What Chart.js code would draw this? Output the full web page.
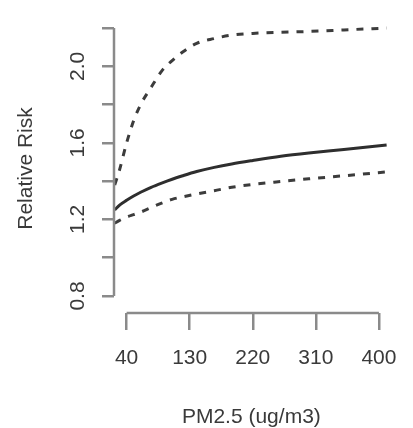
<!DOCTYPE html>
<html lang="en">
<head>
    <meta charset="UTF-8">
    <title>Relative Risk vs PM2.5</title>
    <script src="https://cdn.jsdelivr.net/npm/chart.js"></script>
    <style>
        body {
            margin: 0;
            background-color: #ffffff;
        }
        #rrChart {
            display: block;
        }
    </style>
</head>
<body>
    <canvas id="rrChart" width="413" height="428"></canvas>
    <script>
        // PM2.5 concentration (ug/m3)
        const pm25 = [23, 30, 40, 50, 60, 75, 90, 105, 120, 140, 165, 190, 220, 260, 300, 350, 411];
        // estimated relative risk and its confidence bounds
        const rrMean = [1.25, 1.275, 1.30, 1.322, 1.342, 1.368, 1.39, 1.41, 1.428, 1.45, 1.472, 1.49, 1.508, 1.53, 1.547, 1.565, 1.589];
        const rrUpper = [1.38, 1.46, 1.60, 1.715, 1.80, 1.89, 1.975, 2.03, 2.075, 2.12, 2.145, 2.163, 2.172, 2.178, 2.182, 2.19, 2.20];
        const rrLower = [1.18, 1.195, 1.212, 1.225, 1.238, 1.262, 1.285, 1.305, 1.318, 1.333, 1.35, 1.368, 1.383, 1.398, 1.412, 1.428, 1.448];

        const xTicks = [40, 130, 220, 310, 400];
        const yTicks = [0.8, 1.0, 1.2, 1.4, 1.6, 1.8, 2.0, 2.2];
        const yLabelTicks = [0.8, 1.2, 1.6, 2.0];
        const yLabels = ["0.8", "1.2", "1.6", "2.0"];

        const axisColor = "#8a8a8a";
        const textColor = "#3a3a3a";
        const fontFamily = "'Liberation Sans', Arial, sans-serif";

        const toPoints = (ys) => pm25.map((x, i) => ({ x: x, y: ys[i] }));

        // R style axes: lines only span first to last tick, y labels parallel to axis
        const rAxes = {
            id: "rAxes",
            afterDraw(chart) {
                const ctx = chart.ctx;
                const xs = chart.scales.x;
                const ys = chart.scales.y;
                const area = chart.chartArea;
                ctx.save();
                ctx.strokeStyle = axisColor;
                ctx.lineWidth = 2.5;
                ctx.beginPath();
                ctx.moveTo(xs.getPixelForValue(xTicks[0]), area.bottom);
                ctx.lineTo(xs.getPixelForValue(xTicks[xTicks.length - 1]), area.bottom);
                ctx.moveTo(area.left, ys.getPixelForValue(yTicks[0]));
                ctx.lineTo(area.left, ys.getPixelForValue(yTicks[yTicks.length - 1]));
                ctx.stroke();

                ctx.fillStyle = textColor;
                ctx.font = "21px " + fontFamily;
                ctx.textAlign = "center";
                ctx.textBaseline = "middle";
                yLabelTicks.forEach((v, i) => {
                    ctx.save();
                    ctx.translate(78, ys.getPixelForValue(v));
                    ctx.rotate(-Math.PI / 2);
                    ctx.fillText(yLabels[i], 0, 0);
                    ctx.restore();
                });
                ctx.restore();
            }
        };

        new Chart(document.getElementById("rrChart"), {
            type: "line",
            data: {
                datasets: [
                    {
                        label: "RR",
                        data: toPoints(rrMean),
                        borderColor: "#2e2e2e",
                        borderWidth: 3,
                        pointRadius: 0,
                        cubicInterpolationMode: "monotone",
                        fill: false
                    },
                    {
                        label: "Upper",
                        data: toPoints(rrUpper),
                        borderColor: "#3c3c3c",
                        borderWidth: 3,
                        borderDash: [7, 8],
                        pointRadius: 0,
                        cubicInterpolationMode: "monotone",
                        fill: false
                    },
                    {
                        label: "Lower",
                        data: toPoints(rrLower),
                        borderColor: "#3c3c3c",
                        borderWidth: 3,
                        borderDash: [7, 8],
                        pointRadius: 0,
                        cubicInterpolationMode: "monotone",
                        fill: false
                    }
                ]
            },
            options: {
                responsive: false,
                animation: false,
                layout: {
                    padding: { left: 0, right: 16, top: 24, bottom: 0 }
                },
                plugins: {
                    legend: { display: false },
                    tooltip: { enabled: false }
                },
                scales: {
                    x: {
                        type: "linear",
                        min: 22,
                        max: 414,
                        afterBuildTicks: (scale) => {
                            scale.ticks = xTicks.map(v => ({ value: v }));
                        },
                        afterFit: (scale) => {
                            scale.height = 115;
                        },
                        border: { display: false },
                        grid: {
                            drawOnChartArea: false,
                            drawTicks: true,
                            tickLength: 17,
                            color: axisColor,
                            lineWidth: 2.5
                        },
                        ticks: {
                            color: textColor,
                            padding: 16,
                            maxRotation: 0,
                            autoSkip: false,
                            font: { family: fontFamily, size: 21 }
                        },
                        title: {
                            display: true,
                            text: "PM2.5 (ug/m3)",
                            color: textColor,
                            padding: { top: 0, bottom: -2 },
                            font: { family: fontFamily, size: 21 }
                        }
                    },
                    y: {
                        min: 0.711,
                        max: 2.221,
                        afterBuildTicks: (scale) => {
                            scale.ticks = yTicks.map(v => ({ value: v }));
                        },
                        afterFit: (scale) => {
                            scale.width = 114;
                        },
                        border: { display: false },
                        grid: {
                            drawOnChartArea: false,
                            drawTicks: true,
                            tickLength: 12,
                            color: axisColor,
                            lineWidth: 2.5
                        },
                        ticks: { display: false },
                        title: {
                            display: true,
                            text: "Relative Risk",
                            color: textColor,
                            padding: { top: 14, bottom: 0 },
                            font: { family: fontFamily, size: 21 }
                        }
                    }
                }
            },
            plugins: [rAxes]
        });
    </script>
</body>
</html>
